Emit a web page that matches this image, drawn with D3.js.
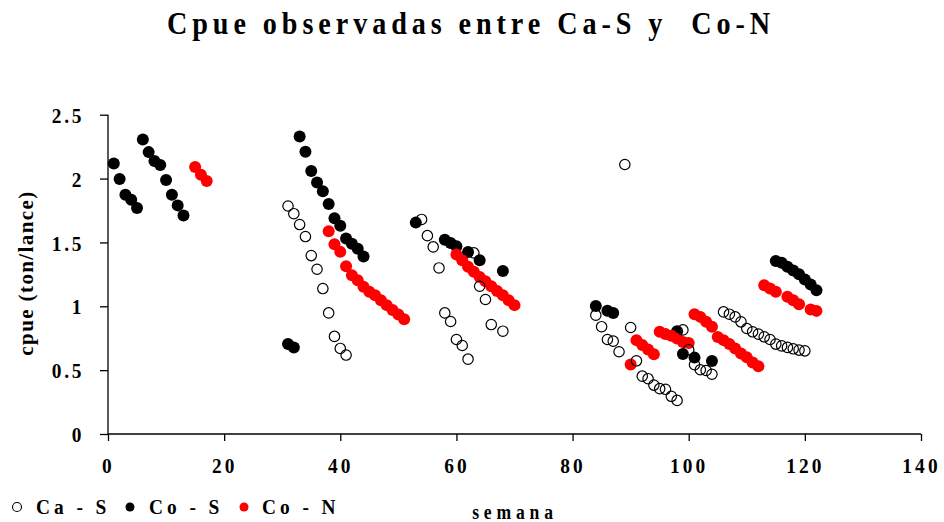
<!DOCTYPE html>
<html>
<head>
<meta charset="utf-8">
<script src="https://cdn.jsdelivr.net/npm/d3@7"></script>
<style>
  html, body { margin: 0; padding: 0; background: #fff; }
  svg { display: block; }
  text { font-family: "Liberation Serif", "Times New Roman", serif; font-weight: bold; fill: #000; white-space: pre; }
</style>
</head>
<body>
<svg id="chart" width="944" height="522"></svg>
<script>
// ---- data ----
const caS_weeks = [31,32,33,34,35,36,37,38,39,40,41,
  54,55,56,57,58,59,60,61,62,63,64,65,66,68,
  84,85,86,87,88,89,90,91,92,93,94,95,96,97,98,99,100,101,102,103,104,
  106,107,108,109,110,111,112,113,114,115,116,117,118,119,120];
const caS_values = [1.785,1.725,1.64,1.546,1.397,1.29,1.139,0.948,0.764,0.67,0.618,
  1.68,1.553,1.465,1.30,0.948,0.881,0.74,0.693,0.586,1.418,1.157,1.053,0.857,0.805,
  0.93,0.84,0.74,0.727,0.644,2.11,0.834,0.573,0.453,0.433,0.383,0.355,0.35,0.295,0.263,0.815,0.66,0.543,0.503,0.497,0.468,
  0.956,0.938,0.917,0.878,0.826,0.80,0.782,0.761,0.74,0.704,0.69,0.678,0.667,0.657,0.651];

const coS_weeks = [1,2,3,4,5,6,7,8,9,10,11,12,13,
  31,32,33,34,35,36,37,38,39,40,41,42,43,44,
  53,58,59,60,62,64,68,
  84,86,87,98,99,101,104,
  115,116,117,118,119,120,121,122];
const coS_values = [2.117,1.996,1.874,1.835,1.77,2.306,2.207,2.137,2.106,1.988,1.874,1.79,1.71,
  0.704,0.678,2.33,2.21,2.06,1.97,1.90,1.80,1.69,1.63,1.53,1.49,1.45,1.39,
  1.655,1.52,1.496,1.47,1.425,1.36,1.277,
  1.003,0.965,0.948,0.805,0.626,0.598,0.571,
  1.355,1.34,1.31,1.28,1.25,1.21,1.17,1.126];

const coN_weeks = [15,16,17,
  38,39,40,41,42,43,44,45,46,47,48,49,50,51,
  60,61,62,63,64,65,66,67,68,69,70,
  90,91,92,93,94,95,96,97,98,99,100,
  101,102,103,104,105,106,107,108,109,110,111,112,
  113,114,115,117,118,119,121,122];
const coN_values = [2.09,2.03,1.98,
  1.587,1.486,1.426,1.313,1.243,1.204,1.152,1.113,1.087,1.048,1.009,0.97,0.936,0.899,
  1.405,1.36,1.31,1.27,1.23,1.196,1.157,1.12,1.087,1.048,1.009,
  0.545,0.735,0.696,0.662,0.625,0.80,0.782,0.77,0.748,0.72,0.713,
  0.938,0.917,0.878,0.839,0.76,0.735,0.704,0.67,0.63,0.60,0.56,0.53,
  1.165,1.14,1.113,1.074,1.048,1.016,0.975,0.964];

const xTicks = [0,20,40,60,80,100,120,140];
const yTicks = [0,0.5,1,1.5,2,2.5];
const yTickLabels = ["0","0.5","1","1.5","2","2.5"];
const seriesNames = ["Ca - S","Co - S","Co - N"];
const titleText = "Cpue observadas entre Ca-S y  Co-N";
const xTitle = "semana";
const yTitle = "cpue (ton/lance)";

// ---- drawing ----
const svg = d3.select("#chart");
const x = d3.scaleLinear().domain([0,140]).range([108,921]);
const y = d3.scaleLinear().domain([0,2.5]).range([434,114.7]);
const SX = 0.88; // horizontal condensing of the bold serif texts

// title
svg.append("text").attr("transform",`translate(471,34) scale(${SX},1)`).attr("text-anchor","middle")
  .style("font-size","32px").style("letter-spacing","5.6px").text(titleText);

// axes
const xAxis = d3.axisBottom(x).tickValues(xTicks).tickSize(7).tickFormat(d3.format("d"));
const gx = svg.append("g").attr("transform","translate(0,434)").call(xAxis);
gx.select(".domain").attr("stroke","#000").attr("stroke-width",1.3).attr("d","M108,0H921");
gx.selectAll(".tick line").attr("stroke","#000").attr("stroke-width",1.3);
gx.selectAll(".tick text").attr("y",39).attr("dy",0).attr("transform",`scale(${SX},1)`)
  .style("font-size","22px").style("letter-spacing","3.5px")
  .style("font-family","'Liberation Serif','Times New Roman',serif").style("font-weight","bold");

const yAxis = d3.axisLeft(y).tickValues(yTicks).tickSize(8).tickFormat((d,i)=>yTickLabels[i]);
const gy = svg.append("g").attr("transform","translate(108,0)").call(yAxis);
gy.select(".domain").attr("stroke","#000").attr("stroke-width",1.3).attr("d","M0,434V114.7");
gy.selectAll(".tick line").attr("stroke","#000").attr("stroke-width",1.3);
gy.selectAll(".tick text").attr("x",-24/SX).attr("dy","0.35em").attr("transform",`scale(${SX},1)`)
  .style("font-size","22px").style("letter-spacing","3px")
  .style("font-family","'Liberation Serif','Times New Roman',serif").style("font-weight","bold");

// axis titles
svg.append("text").attr("transform",`translate(515,519) scale(${SX},1)`).attr("text-anchor","middle")
  .style("font-size","20px").style("letter-spacing","5.5px").text(xTitle);
svg.append("text").attr("transform","translate(33,273) rotate(-90)").attr("text-anchor","middle")
  .style("font-size","21px").style("letter-spacing","1.4px").text(yTitle);

// points
const plot = svg.append("g");
function drawSeries(weeks, values, style) {
  plot.selectAll(null).data(weeks.map((w,i)=>({w, v: values[i]}))).enter()
    .append("circle")
    .attr("cx", d=>x(d.w)).attr("cy", d=>y(d.v))
    .attr("r", style.r)
    .attr("fill", style.fill).attr("stroke", style.stroke).attr("stroke-width", style.sw);
}
drawSeries(coS_weeks, coS_values, {r:6, fill:"#000", stroke:"none", sw:0});
drawSeries(coN_weeks, coN_values, {r:6, fill:"#ff0000", stroke:"none", sw:0});
drawSeries(caS_weeks, caS_values, {r:5.2, fill:"none", stroke:"#000", sw:1.2});

// legend
const legend = [
  {name: seriesNames[0], cx:17, tx:36, fill:"none", stroke:"#000"},
  {name: seriesNames[1], cx:130, tx:149, fill:"#000", stroke:"none"},
  {name: seriesNames[2], cx:244, tx:262, fill:"#ff0000", stroke:"none"}
];
const lg = svg.append("g");
legend.forEach(l => {
  lg.append("circle").attr("cx",l.cx).attr("cy",507).attr("r",4.5)
    .attr("fill",l.fill).attr("stroke",l.stroke).attr("stroke-width",1.1);
  lg.append("text").attr("transform",`translate(${l.tx},514) scale(${SX},1)`).style("font-size","22px")
    .style("letter-spacing","4.5px").text(l.name);
});
</script>
</body>
</html>
